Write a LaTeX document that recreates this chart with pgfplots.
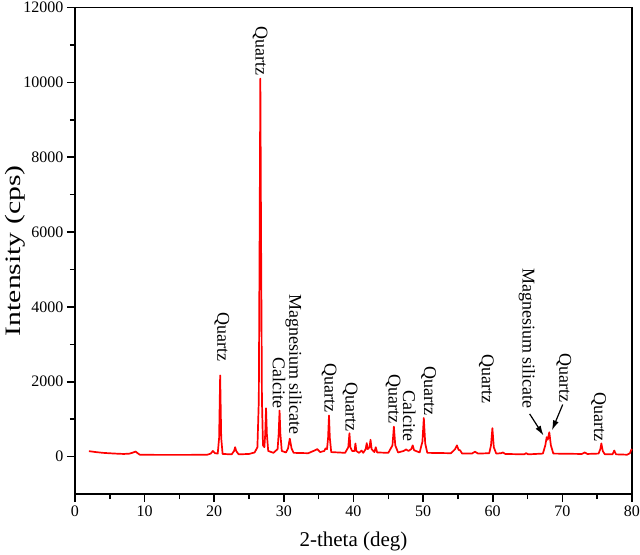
\documentclass[border=0pt]{standalone}
\usepackage{fontspec}
\setmainfont{Liberation Serif}
\usepackage{graphicx}
\usepackage{pgfplots}
\usepackage{pgfplotstable}
\pgfplotsset{compat=1.18}
\usetikzlibrary{arrows.meta}
\pgfplotstableread{
x y
2 145
3 120
4 100
5 88
6 78
7 70
7.8 78
8.3 105
8.7 135
9.0 90
9.3 50
12 45
16 45
19 50
19.5 80
19.8 150
20.1 90
20.5 80
20.7 500
20.85 2170
21.0 500
21.2 70
22.5 60
22.85 150
23.0 250
23.15 150
23.5 60
25 70
25.8 110
26.2 250
26.4 1500
26.52 6000
26.62 10100
26.72 6000
26.85 1500
27.0 300
27.2 250
27.32 600
27.44 1290
27.56 600
27.75 150
28.5 100
29.1 200
29.25 600
29.38 1230
29.5 600
29.7 150
30.3 110
30.6 220
30.85 480
31.1 220
31.4 100
33.5 90
34.5 170
34.8 200
35.2 120
35.8 150
36.0 220
36.2 200
36.35 500
36.48 1100
36.6 500
36.8 120
38.8 100
39.25 250
39.42 625
39.55 250
39.8 150
40.15 150
40.28 350
40.4 150
40.8 100
41.15 160
41.4 100
41.75 200
41.9 360
42.05 200
42.3 250
42.45 450
42.6 200
43.0 120
43.2 250
43.4 110
45.0 100
45.6 300
45.8 800
46.0 300
46.4 110
47.2 150
47.55 190
47.9 150
48.3 200
48.5 300
48.7 170
49.5 110
49.9 400
50.1 1030
50.3 350
50.6 100
54 90
54.6 200
54.85 300
55.1 180
55.3 170
55.6 80
57.0 80
57.45 130
57.9 80
59.5 90
59.75 300
59.95 760
60.15 250
60.5 80
61.2 90
61.45 110
61.8 70
64.5 60
64.8 90
65.1 60
67.2 80
67.55 300
67.75 520
67.9 450
68.12 650
68.35 300
68.7 80
72.8 70
73.2 110
73.6 70
75.2 80
75.45 200
75.6 350
75.8 150
76.1 60
77.2 60
77.45 160
77.7 60
79.3 50
79.7 90
79.9 180
80 200
}\xrd
\newcommand{\lab}{\fontsize{18bp}{20bp}\selectfont}
\begin{document}
\begin{tikzpicture}
\useasboundingbox (-75bp,-61bp) rectangle (565bp,494bp);
\begin{axis}[
  at={(0,0)}, anchor=south west,
  scale only axis, width=557bp, height=486.5bp,
  xmin=0, xmax=80, ymin=-1000, ymax=12000,
  xtick={0,10,...,80}, ytick={0,2000,...,12000},
  minor x tick num=1, minor y tick num=1,
  xtick pos=bottom, ytick pos=left, tick align=outside,
  major tick length=8bp, minor tick length=5bp,
  axis line style={line width=1.6bp},
  every tick/.style={line width=1.6bp, black},
  ticklabel style={font=\fontsize{16bp}{18bp}\selectfont},
  /pgf/number format/assume math mode=true,
  /pgf/number format/1000 sep={},
  scaled ticks=false,
  xlabel={2-theta (deg)},
  ylabel={\scalebox{1.35}[1]{Intensity (cps)}},
  xlabel style={font=\fontsize{21bp}{24bp}\selectfont, at={(axis description cs:0.5,-0.0966)}, anchor=center},
  ylabel style={font=\fontsize{22bp}{24bp}\selectfont, at={(axis description cs:-0.1077,0.5)}, anchor=center},
  clip=false,
]
\addplot[red, line width=1.7bp, line join=round] table[x=x,y=y] {\xrd};
\begin{scope}[every node/.style={rotate=-90, anchor=west, inner sep=0pt, font=\lab}]
\node at (axis cs:21.1,3865) {Quartz};
\node at (axis cs:26.6,11500) {Quartz};
\node at (axis cs:31.4,4340) {Magnesium silicate};
\node at (axis cs:29.3,2660) {Calcite};
\node at (axis cs:36.5,2500) {Quartz};
\node at (axis cs:39.5,1990) {Quartz};
\node at (axis cs:45.7,2190) {Quartz};
\node at (axis cs:48.0,1770) {Calcite};
\node at (axis cs:50.8,2410) {Quartz};
\node at (axis cs:59.1,2730) {Quartz};
\node at (axis cs:64.9,5036) {Magnesium silicate};
\node at (axis cs:70.2,2770) {Quartz};
\node at (axis cs:75.2,1720) {Quartz};
\end{scope}
\draw[line width=1.2bp, -{Latex[length=10bp,width=6bp]}] (axis cs:65.3,1140) -- (axis cs:67.3,560);
\draw[line width=1.2bp, -{Latex[length=10bp,width=6bp]}] (axis cs:70.05,1390) -- (axis cs:68.5,700);
\end{axis}
\end{tikzpicture}
\end{document}
